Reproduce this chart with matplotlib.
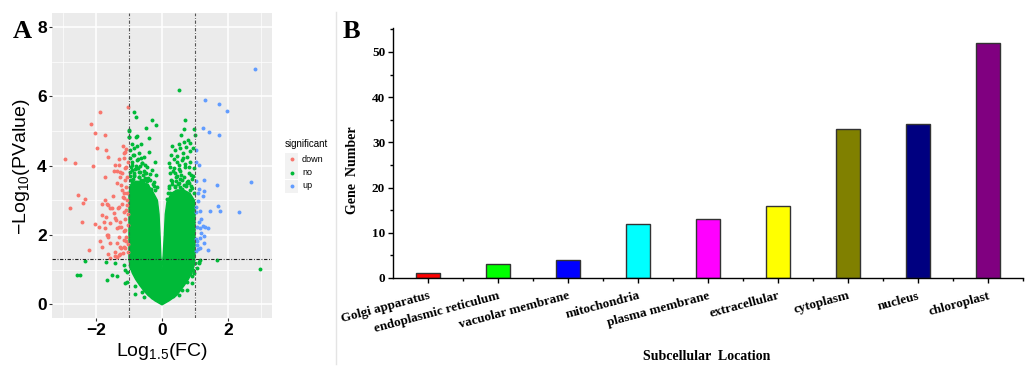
import matplotlib
matplotlib.use('Agg')
import matplotlib.pyplot as plt
from matplotlib.patches import Rectangle
from matplotlib.lines import Line2D

# ---------------- data : panel A (volcano) ----------------
down_x = [-2.93, -2.64, -2.54, -2.32, -2.40, -2.78, -2.41, -2.22, -1.89, -2.16, -2.04, -1.73,
          -1.98, -1.71, -2.08, -1.62, -1.74, -1.02, -1.42, -1.36, -1.21, -1.19, -1.14, -1.08,
          -1.30, -1.46, -1.08, -1.24, -1.48, -1.72, -1.65, -1.82, -2.04, -1.90, -1.77, -1.70,
          -1.57, -1.44, -1.32, -1.38, -1.31, -1.87, -1.82, -1.67, -1.62, -1.29, -1.24, -1.16,
          -1.12, -1.10, -1.22, -1.16, -1.08, -1.19, -1.06, -1.36, -1.41, -1.31, -1.57, -1.24,
          -1.14, -1.18, -1.09, -1.08, -1.13, -1.06, -1.28, -1.11, -1.16, -1.31, -1.11, -1.26,
          -1.36, -1.21, -1.16, -1.62, -1.31, -1.06, -1.52, -1.16, -1.82, -1.42, -1.57, -1.26,
          -1.72, -1.36, -1.11, -1.62, -1.16, -1.57, -1.26, -1.11, -1.42, -1.26, -1.64, -1.36,
          -1.03, -1.04, -1.03, -1.05, -1.04, -1.02]
down_y = [4.18, 4.09, 3.14, 3.03, 2.93, 2.77, 2.38, 1.57, 5.55, 5.21, 4.93, 4.90,
          4.50, 4.45, 3.98, 4.25, 3.66, 5.70, 4.03, 3.84, 3.78, 4.57, 4.38, 4.48,
          4.18, 3.86, 3.97, 3.44, 3.13, 3.01, 2.90, 2.89, 2.32, 2.22, 2.37, 2.53,
          2.77, 2.63, 2.77, 2.43, 2.24, 1.82, 1.66, 1.99, 1.93, 1.95, 2.24, 2.10,
          2.47, 2.72, 2.89, 3.22, 3.39, 3.09, 3.01, 1.76, 1.39, 1.42, 1.33, 1.62,
          1.66, 1.47, 1.81, 1.95, 3.59, 3.68, 3.68, 4.40, 4.21, 4.02, 3.92, 3.83,
          3.49, 3.30, 3.06, 2.86, 2.81, 2.86, 2.77, 2.67, 2.58, 2.48, 2.34, 2.38,
          2.19, 2.19, 2.14, 2.00, 1.85, 1.76, 1.66, 1.62, 1.52, 1.45, 1.45, 1.37,
          1.52, 2.30, 2.60, 3.20, 4.10, 1.75]

up_x = [2.83, 1.31, 1.72, 1.97, 1.24, 1.41, 1.72, 1.03, 1.04, 1.11, 2.68, 1.67, 1.27, 1.04,
        1.11, 1.28, 1.23, 1.08, 1.08, 1.71, 1.76, 1.44, 2.34, 1.16, 1.03, 1.17, 1.12, 1.23,
        1.06, 1.38, 1.30, 1.16, 1.19, 1.28, 1.04, 1.26, 1.08, 1.38, 1.02, 1.02, 1.05, 1.14,
        1.06, 1.16]
up_y = [6.78, 5.89, 5.78, 5.58, 5.10, 4.98, 4.88, 4.45, 4.11, 4.02, 3.54, 3.43, 3.59, 3.56,
        3.33, 3.27, 3.12, 3.20, 2.99, 2.84, 2.70, 2.69, 2.66, 2.70, 2.65, 2.45, 2.38, 2.26,
        2.24, 2.21, 2.24, 2.19, 2.05, 1.98, 1.88, 1.78, 1.59, 1.57, 1.53, 2.80, 1.70, 1.90,
        1.81, 1.62]

# scattered non-significant points
no_x = [0.51, -0.86, -0.78, -0.30, -0.18, -0.48, -0.40, -1.01, 0.69, 0.96, 0.66, 0.59, 0.99,
        -0.78, -1.01,
        -2.58, -2.47, -2.32, -1.71, -1.65, -1.52, -1.36, -1.41, -1.14, -1.11, -0.81, -1.06,
        1.67, 2.98, 1.11, 1.16, 0.96, 0.91, 0.76,
        -0.99, -0.76, -0.99, -0.91, -0.63, -0.76, -0.86, -0.96, -0.39, -0.71, -0.86, -0.56,
        -0.96, -0.76, -0.22, -0.61, -0.91, -0.46, -0.76, -0.30, -0.66, -0.96, -0.51, -0.86,
        -0.18, -0.71, -0.41, -0.56, -0.93, -0.25, -0.81, -0.46, -0.66, -0.15, -0.96, -0.33,
        -0.76, -0.56,
        0.79, 0.66, 0.50, 0.86, 0.30, 0.73, 0.55, 0.40, 0.84, 0.94, 0.63, 0.28, 0.45, 0.76,
        0.35, 0.61, 0.86, 0.20, 0.51, 0.71, 0.35, 0.97, 0.55, 0.81, 0.25, 0.45, 0.66, 0.91,
        0.30, 0.51, 0.76, 0.20, 0.40, 0.61, 0.86, 0.25, 0.51, 0.71, 0.97, 0.35, 0.15, 0.81,
        -1.11, -1.06, -0.96, -0.81, -0.61, -0.55, -0.71, 0.76, 0.91, 1.01, 0.60, 0.50, 1.06,
        0.86, 1.11,
        -0.88, -0.70, -0.52, -0.36, -0.24, -0.92, -0.64, -0.44, -0.28, -0.84, -0.58, -0.20,
        0.22, 0.38, 0.56, 0.74, 0.92, 0.30, 0.48, 0.68, 0.88, 0.18, 0.42, 0.62, 0.82,
        -0.95, 0.95, -0.86, 0.86, -0.74, 0.72, -0.30, 0.32,
        -0.94, -0.82, -0.68, -0.54, -0.90, -0.74, -0.60, -0.48, -0.97, -0.84, -0.70, -0.36,
        -0.88, -0.64, -0.80, -0.52, -0.92, -0.72,
        0.26, 0.42, 0.58, 0.78, 0.93, 0.34, 0.50, 0.70, 0.88, 0.23, 0.46, 0.64, 0.83, 0.38,
        0.56, 0.75]
no_y = [6.18, 5.56, 5.41, 5.32, 5.17, 5.08, 4.79, 5.03, 5.32, 5.05, 5.05, 4.88, 4.88,
        4.84, 4.84,
        0.85, 0.83, 1.25, 1.23, 0.70, 0.85, 0.80, 1.18, 1.13, 0.61, 0.30, 0.94,
        1.28, 1.01, 1.18, 1.28, 0.89, 0.61, 0.41,
        5.01, 4.85, 4.83, 4.64, 4.64, 4.57, 4.50, 4.45, 4.40, 4.36, 4.30, 4.26,
        4.21, 4.16, 4.11, 4.07, 4.02, 3.97, 3.92, 3.87, 3.83, 3.83, 3.78, 3.73,
        3.73, 3.66, 3.63, 3.59, 3.59, 3.54, 3.49, 3.44, 3.41, 3.39, 3.37, 3.34,
        3.30, 3.25,
        4.74, 4.69, 4.64, 4.66, 4.57, 4.55, 4.50, 4.45, 4.43, 4.50, 4.38, 4.31, 4.28, 4.26,
        4.19, 4.15, 4.12, 4.07, 4.02, 3.97, 3.92, 3.92, 3.85, 3.80, 3.78, 3.70, 3.66, 3.61,
        3.57, 3.51, 3.49, 3.41, 3.37, 3.34, 3.31, 3.22, 3.18, 3.15, 3.20, 3.08, 3.05, 3.02,
        0.99, 0.65, 1.13, 0.51, 0.36, 0.22, 0.70, 0.65, 0.80, 1.18, 0.41, 0.27, 1.04,
        0.94, 1.23,
        3.62, 3.68, 3.64, 3.58, 3.40, 3.52, 3.60, 3.56, 3.48, 3.70, 3.72, 3.30,
        3.36, 3.40, 3.38, 3.42, 3.35, 3.46, 3.48, 3.44, 3.40, 3.20, 3.55, 3.58, 3.50,
        1.05, 1.00, 0.92, 0.90, 0.75, 0.78, 0.22, 0.24,
        3.95, 3.90, 3.98, 3.86, 4.12, 4.18, 4.08, 3.80, 3.70, 3.78, 3.82, 3.76,
        4.30, 4.22, 4.00, 4.02, 3.88, 3.94,
        3.60, 3.66, 3.74, 3.56, 3.70, 3.86, 3.90, 4.04, 3.72, 3.95, 4.10, 4.22, 3.96, 3.78,
        3.62, 3.52]

# outline of the solid (overplotted) non-significant cloud
core_x = [0.00, -0.22, -0.42, -0.56, -0.68, -0.80, -0.90, -0.97, -1.00, -1.00, -1.00, -0.95,
          -0.80, -0.60, -0.42, -0.28, -0.14, -0.09, -0.06, -0.035, -0.005, 0.035, 0.07, 0.10,
          0.15, 0.28, 0.45, 0.65, 0.85, 0.98, 1.00, 1.00, 0.97, 0.90, 0.80, 0.68, 0.56,
          0.44, 0.22]
core_y = [-0.02, 0.10, 0.25, 0.40, 0.55, 0.72, 0.90, 1.10, 1.30, 2.00, 3.20, 3.45,
          3.55, 3.55, 3.45, 3.25, 3.00, 2.60, 2.00, 1.40, 1.00, 1.40, 2.00, 2.60,
          2.95, 3.20, 3.30, 3.30, 3.20, 3.00, 2.60, 1.40, 1.10, 0.90, 0.72, 0.55, 0.40,
          0.25, 0.10]

fc_cut = [-1, 1]
p_cut = 1.301

legend_labels = ['down', 'no', 'up']

# ---------------- data : panel B (bars) ----------------
locations = ['Golgi apparatus', 'endoplasmic reticulum', 'vacuolar membrane', 'mitochondria',
             'plasma membrane', 'extracellular', 'cytoplasm', 'nucleus', 'chloroplast']
gene_counts = [1, 3, 4, 12, 13, 16, 33, 34, 52]
bar_colors = ['#FF0000', '#00FF00', '#0000FF', '#00FFFF', '#FF00FF', '#FFFF00',
              '#808000', '#000080', '#800080']

# ---------------- styling ----------------
RED, GREEN, BLUE = '#F8766D', '#00BA38', '#619CFF'
plt.rcParams['mathtext.fontset'] = 'custom'
plt.rcParams['mathtext.rm'] = 'Liberation Sans'
plt.rcParams['mathtext.default'] = 'regular'
SANS = 'Liberation Sans'
SERIF = 'Liberation Serif'

W, H = 1026, 366
fig = plt.figure(figsize=(W / 100, H / 100), dpi=100)
fig.patch.set_facecolor('white')


def fr(x0, y0, x1, y1):
    return [x0 / W, 1 - y1 / H, (x1 - x0) / W, (y1 - y0) / H]


# ================= Panel A =================
axA = fig.add_axes(fr(52, 13, 272, 318))
axA.set_facecolor('#EBEBEB')
axA.set_xlim(-3.33, 3.33)
axA.set_ylim(-0.40, 8.41)
axA.set_xticks([-2, 0, 2])
axA.set_xticks([-3, -1, 1, 3], minor=True)
axA.set_yticks([0, 2, 4, 6, 8])
axA.set_yticks([1, 3, 5, 7], minor=True)
axA.grid(which='major', color='white', lw=1.1)
axA.grid(which='minor', color='white', lw=0.5)
axA.set_axisbelow(True)
for s in axA.spines.values():
    s.set_visible(False)
axA.tick_params(which='major', length=2.2, width=0.8, color='#333333', pad=1.5,
                labelsize=12.5)
axA.tick_params(which='minor', length=0)
for lab in axA.get_xticklabels() + axA.get_yticklabels():
    lab.set_fontfamily(SANS)
    lab.set_fontweight('bold')

axA.fill(core_x, core_y, color=GREEN, ec=GREEN, lw=1.0, joinstyle='round', zorder=2)
ms = 8
axA.scatter(no_x, no_y, s=ms, color=GREEN, lw=0, zorder=3)
axA.scatter(down_x, down_y, s=ms, color=RED, lw=0, zorder=3)
axA.scatter(up_x, up_y, s=ms, color=BLUE, lw=0, zorder=3)

for xv in fc_cut:
    axA.axvline(xv, color='#555555', lw=0.8, dashes=(3, 1.5, 0.8, 1.5), zorder=4)
axA.axhline(p_cut, color='#222222', lw=0.8, dashes=(3, 1.5, 0.8, 1.5), zorder=4)

fig.text(22 / W, 1 - 167 / H, '\u2212Log$_{10}$(PValue)', rotation=90, ha='center',
         va='center', fontsize=14, family=SANS)
fig.text(162 / W, 1 - 352 / H, 'Log$_{1.5}$(FC)', ha='center', va='center',
         fontsize=14, family=SANS)
fig.text(13 / W, 1 - 31 / H, 'A', ha='left', va='center', fontsize=19,
         family=SERIF, fontweight='bold')

# legend for panel A
axL = fig.add_axes(fr(280, 130, 336, 200))
axL.set_xlim(280, 336)
axL.set_ylim(200, 130)
axL.axis('off')
axL.text(285, 144, 'significant', ha='left', va='center', fontsize=7, family=SANS)
for yc, col, lab in zip([159, 172.5, 186], [RED, GREEN, BLUE], legend_labels):
    axL.add_patch(Rectangle((285, yc - 6.5), 13, 13, color='#F2F2F2', lw=0))
    axL.scatter([291.5], [yc], s=ms, color=col, lw=0)
    axL.text(302, yc, lab, ha='left', va='center', fontsize=6.5, family=SANS)

# faint panel separator
fig.add_artist(Line2D([336 / W, 336 / W], [1 - 12 / H, 1 - 364 / H], color='#E4E4E4', lw=1))

# ================= Panel B =================
axB = fig.add_axes(fr(393, 28, 1023, 278))
xpos = list(range(len(locations)))
axB.bar(xpos, gene_counts, width=0.35, color=bar_colors, edgecolor='#333333', lw=1,
        zorder=2)
axB.set_xlim(-0.5, 8.5)
axB.set_ylim(0, 55.3)
axB.spines['top'].set_visible(False)
axB.spines['right'].set_visible(False)
axB.spines['left'].set_linewidth(1)
axB.spines['bottom'].set_linewidth(1)
axB.set_xticks(xpos)
axB.set_xticks([p + 0.5 for p in xpos], minor=True)
axB.set_yticks([0, 10, 20, 30, 40, 50])
axB.set_yticks([5, 15, 25, 35, 45, 55], minor=True)
axB.tick_params(which='major', direction='out', length=3.6, width=1, labelsize=9.5, pad=2)
axB.tick_params(which='minor', direction='out', length=2.2, width=1)
axB.tick_params(axis='x', which='major', pad=5)
axB.set_xticklabels(locations, rotation=15, ha='right', rotation_mode='anchor')
for lab in axB.get_xticklabels() + axB.get_yticklabels():
    lab.set_fontfamily(SERIF)
    lab.set_fontweight('bold')

fig.text(353 / W, 1 - 170 / H, 'Gene  Number', rotation=90, ha='center', va='center',
         fontsize=10, family=SERIF, fontweight='bold')
fig.text(707 / W, 1 - 356 / H, 'Subcellular  Location', ha='center', va='center',
         fontsize=10, family=SERIF, fontweight='bold')
fig.text(343 / W, 1 - 31 / H, 'B', ha='left', va='center', fontsize=19,
         family=SERIF, fontweight='bold')

fig.savefig('out.png', dpi=100, facecolor='white')
